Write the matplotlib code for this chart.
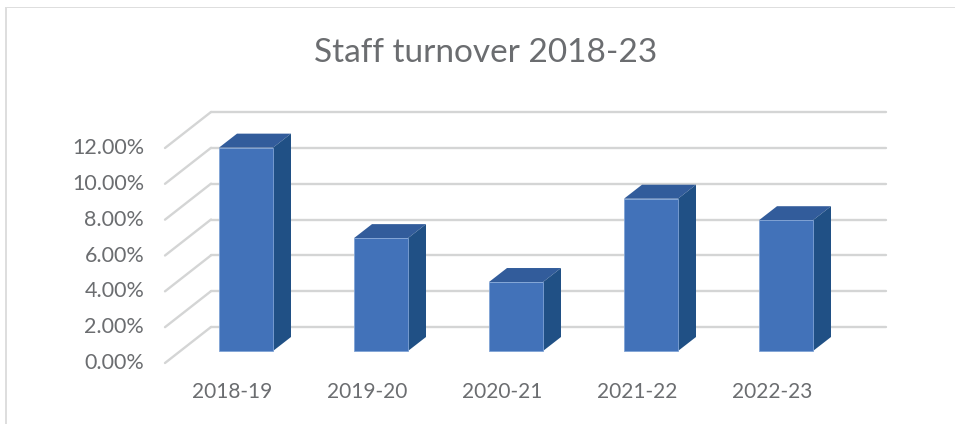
"""Staff turnover 2018-23, drawn as a fake 3D column chart."""

import matplotlib
matplotlib.use("Agg")
import matplotlib.pyplot as plt
from matplotlib.patches import Polygon, Rectangle

# Data
years = ["2018-19", "2019-20", "2020-21", "2021-22", "2022-23"]
turnover = [11.35, 6.3, 3.85, 8.5, 7.3]
y_ticks = [0, 2, 4, 6, 8, 10, 12]

W, H = 955, 424
GRID = "#d4d5d5"
TEXT = "#6b6d70"

plt.rcParams["font.family"] = ["Lato", "DejaVu Sans"]

fig = plt.figure(figsize=(W / 100, H / 100), dpi=100)

# Front plane of the plot box, in pixels
left, right, bottom, top = 165, 840, 363, 148
ax = fig.add_axes([left / W, 1 - bottom / H, (right - left) / W, (bottom - top) / H])
ax.set_xlim(-0.5, 4.5)
ax.set_ylim(0, 12)
ax.patch.set_visible(False)
for s in ax.spines.values():
    s.set_visible(False)

px_x = 5 / (right - left)
px_y = 12 / (bottom - top)

# Depth of the box, and of the bars sitting inside it
box_dx, box_dy = 46 * px_x, 36 * px_y
lift_dx, lift_dy = 13.5 * px_x, 12 * px_y
bar_dx, bar_dy = 18 * px_x, 14 * px_y
bar_w = 54 * px_x

# Wall and floor gridlines
for v in y_ticks:
    ax.plot([-0.5, -0.5 + box_dx], [v, v + box_dy], color=GRID, lw=1.7,
            clip_on=False, zorder=1, solid_capstyle="round")
    ax.plot([-0.5 + box_dx, 4.5 + box_dx], [v + box_dy, v + box_dy], color=GRID, lw=1.7,
            clip_on=False, zorder=1, solid_capstyle="round")

# Columns: front face through ax.bar, then top and side faces
for i, val in enumerate(turnover):
    x0 = i + lift_dx - bar_w / 2
    x1 = x0 + bar_w
    y0 = lift_dy
    y1 = y0 + val
    ax.bar(i + lift_dx, val, width=bar_w, bottom=lift_dy, color="#4272b9",
           edgecolor="#7fa3d6", linewidth=0.6, clip_on=False, zorder=3)
    ax.add_patch(Polygon([(x0, y1), (x1, y1), (x1 + bar_dx, y1 + bar_dy), (x0 + bar_dx, y1 + bar_dy)],
                         closed=True, facecolor="#325c9b", edgecolor="none", clip_on=False, zorder=2))
    ax.add_patch(Polygon([(x1, y0), (x1 + bar_dx, y0 + bar_dy), (x1 + bar_dx, y1 + bar_dy), (x1, y1)],
                         closed=True, facecolor="#205085", edgecolor="none", clip_on=False, zorder=2))

ax.set_xticks(range(len(years)))
ax.set_xticklabels(years)
ax.set_yticks(y_ticks)
ax.set_yticklabels([f"{v:.2f}%" for v in y_ticks], va="center")
ax.tick_params(axis="x", length=0, labelsize=15, labelcolor=TEXT, pad=14)
ax.tick_params(axis="y", length=0, labelsize=15.5, labelcolor=TEXT, pad=15)

fig.text(486 / W, 1 - 53 / H, "Staff turnover 2018-23", ha="center", va="center",
         fontsize=24, color=TEXT)

# Frame of the pasted chart: only the top and left edges show
fig.add_artist(Rectangle((5 / W, 0), 2 / W, 1 - 7 / H, transform=fig.transFigure,
                         facecolor="#dedede", edgecolor="none"))
fig.add_artist(Rectangle((5 / W, 1 - 8 / H), 1 - 5 / W, 1 / H, transform=fig.transFigure,
                         facecolor="#dedede", edgecolor="none"))

fig.savefig("out.png", dpi=100)
